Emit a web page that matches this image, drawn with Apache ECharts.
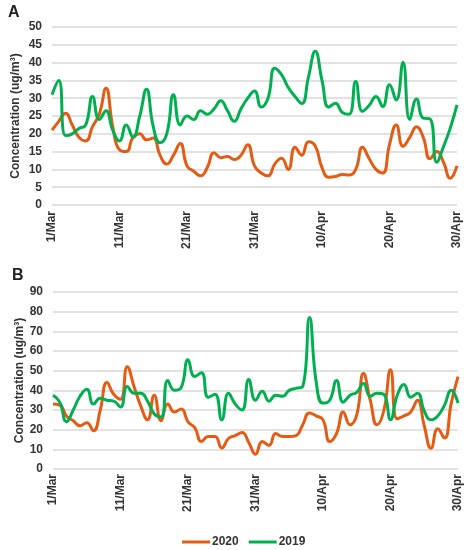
<!DOCTYPE html>
<html><head><meta charset="utf-8">
<script src="https://cdn.jsdelivr.net/npm/echarts@6/dist/echarts.min.js"></script>
<style>html,body{margin:0;padding:0;background:#fff}#c{width:471px;height:550px}</style>
</head><body><div id="c"></div>
<script>
const days = ["1/Mar","2/Mar","3/Mar","4/Mar","5/Mar","6/Mar","7/Mar","8/Mar","9/Mar","10/Mar",
"11/Mar","12/Mar","13/Mar","14/Mar","15/Mar","16/Mar","17/Mar","18/Mar","19/Mar","20/Mar",
"21/Mar","22/Mar","23/Mar","24/Mar","25/Mar","26/Mar","27/Mar","28/Mar","29/Mar","30/Mar",
"31/Mar","1/Apr","2/Apr","3/Apr","4/Apr","5/Apr","6/Apr","7/Apr","8/Apr","9/Apr",
"10/Apr","11/Apr","12/Apr","13/Apr","14/Apr","15/Apr","16/Apr","17/Apr","18/Apr","19/Apr",
"20/Apr","21/Apr","22/Apr","23/Apr","24/Apr","25/Apr","26/Apr","27/Apr","28/Apr","29/Apr","30/Apr"];

const seriesNames = ["2020", "2019"];

// Panel A
const a2020 = [21,23.5,25.8,22.5,19,18,22,25.5,32.8,22,
15.5,15,19,20,18.3,18.8,14,11.5,14,17.3,
11,9.5,8.2,10.5,14.7,13.3,13.6,12.8,14,16.9,
11,9,8.2,11.5,13.1,10,16.2,14,17.8,16.6,
10.5,7.8,8,8.6,8.4,10,16.2,13,10,9,
17,22.5,16.5,19,22,19,13,15,12,7.5,11];
const a2019 = [31,35,19.5,20,21.5,22.5,30.5,24,26.5,21,
18,22.5,19,25,32.5,22,17.5,20,31,22.5,
25,24,26.5,25.5,27,29.3,26.5,23.5,27,30,
32,27.5,30,38.4,36.6,33,30.5,28.5,36,43.2,
35,27.5,28.6,26,25.5,34.7,26.3,28,30.5,27.7,
33.8,29.5,40,24,29.8,24.4,24.2,12,16.4,21.6,28.1];

// Panel B
const b2020 = [33,32.5,27,24.5,22,23.5,19.5,30,44,38,
35.5,52,42,32,25,37.5,24.5,33,29,30.5,
24,21,14,16.5,16.5,10.7,15.5,17,18.5,13.5,
7.5,14,12,18,16.5,16.5,17,22.5,28.5,27,
25,14,18,29,22.5,27.5,48.5,35,22.5,29.5,
50.5,25.5,27,29,35,22,10.5,20.5,15.7,33.5,47];
const b2019 = [37.5,34,24,30,37,40.5,33,36,35,34.5,
31.5,42,38.5,38.5,34.5,28,26.5,45,40,41.5,
55.5,47,49,36.5,38,25,38.5,33,30,45.5,
35,39.5,34.5,37.5,37,40,41,42,77,44,
33.5,35,45,34,37.5,39,43.5,37,38.5,38,
25,37.5,43,36.5,38.5,29.5,25,27,32.5,40,33.5];

const yTicksA = {min:0, max:50, interval:5};
const yTicksB = {min:0, max:90, interval:10};

const C2020 = '#E55B13', C2019 = '#00B050';
const FONT = "'Liberation Sans', Arial, sans-serif";
const TXT = '#333333';

function xAxis(gi, margin){
  return {type:'category', gridIndex:gi, data:days, boundaryGap:false,
    axisLine:{show:false}, axisTick:{show:false},
    axisLabel:{interval:9, rotate:90, margin:margin, fontFamily:FONT, fontWeight:'bold', fontSize:12, color:TXT},
    splitLine:{show:false}};
}
function yAxis(gi, t, gap){
  return {type:'value', gridIndex:gi, min:t.min, max:t.max, interval:t.interval,
    name:'Concentration (ug/m³)', nameLocation:'middle', nameGap:gap, nameMoveOverlap:false,
    nameTextStyle:{fontFamily:FONT, fontWeight:'bold', fontSize:12, color:TXT},
    axisLine:{show:false}, axisTick:{show:false},
    axisLabel:{margin:10, fontFamily:FONT, fontWeight:'bold', fontSize:12, color:TXT},
    splitLine:{lineStyle:{color:'#D9D9D9', width:1.5}}};
}
function line(name, data, gi, color){
  return {name:name, type:'line', xAxisIndex:gi, yAxisIndex:gi, data:data,
    smooth:0.5, symbol:'none', showSymbol:false,
    lineStyle:{color:color, width:3}, itemStyle:{color:color}};
}

const chart = echarts.init(document.getElementById('c'), null, {renderer:'canvas'});
chart.setOption({
  animation:false,
  backgroundColor:'#fff',
  title:[
    {text:'A', left:8, top:5, padding:0, textStyle:{fontFamily:FONT, fontWeight:'bold', fontSize:16, color:'#222'}},
    {text:'B', left:12, top:268, padding:0, textStyle:{fontFamily:FONT, fontWeight:'bold', fontSize:16, color:'#222'}}
  ],
  legend:{data:seriesNames, left:177, top:531, icon:'rect', itemWidth:28, itemHeight:3, itemGap:10,
    textStyle:{fontFamily:FONT, fontWeight:'bold', fontSize:12, color:TXT, padding:[0,0,0,-3]}},
  grid:[
    {left:52, top:27, width:405, height:178},
    {left:53, top:292, width:405, height:177}
  ],
  xAxis:[xAxis(0,6), xAxis(1,5)],
  yAxis:[yAxis(0,yTicksA,30), yAxis(1,yTicksB,27)],
  series:[
    line(seriesNames[0], a2020, 0, C2020),
    line(seriesNames[1], a2019, 0, C2019),
    line(seriesNames[0], b2020, 1, C2020),
    line(seriesNames[1], b2019, 1, C2019)
  ]
});
</script></body></html>
